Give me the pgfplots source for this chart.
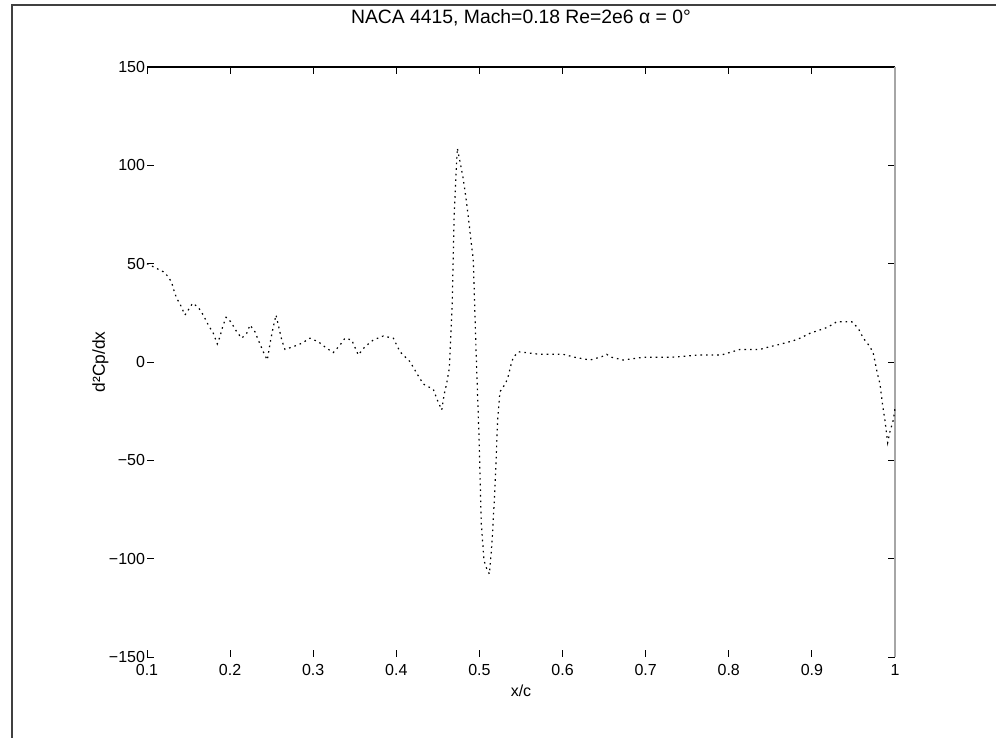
\documentclass[border=0pt]{standalone}
\usepackage{pgfplots}
\pgfplotsset{compat=1.18}
\usepackage{fontspec}
\setmainfont{Liberation Sans}

\begin{document}
\begin{tikzpicture}[x=0.75pt,y=0.75pt]
\useasboundingbox (0,0) rectangle (996,738);
% figure frame
\draw[black!75, line width=0.8pt] (12,0) -- (12,733) -- (996,733);
\begin{axis}[
  at={(110.25pt,60.75pt)}, anchor=south west,
  width=561pt, height=442.5pt, scale only axis,
  xmin=0.1, xmax=1, ymin=-150, ymax=150,
  xtick={0.1,0.2,0.3,0.4,0.5,0.6,0.7,0.8,0.9,1},
  xticklabels={0.1,0.2,0.3,0.4,0.5,0.6,0.7,0.8,0.9,1},
  ytick={-150,-100,-50,0,50,100,150},
  yticklabels={−150,−100,−50,0,50,100,150},
  tick align=inside, major tick length=5pt,
  tick style={black, line width=0.6pt},
  axis line style={draw=none},
  ticklabel style={font=\fontsize{12}{14}\selectfont},
  xticklabel style={yshift=-2pt},
  yticklabel style={xshift=2pt},
  clip=false,
  title={NACA 4415, Mach=0.18 Re=2e6 α = 0°},
  title style={font=\fontsize{14.5}{17}\selectfont, at={([yshift=31pt]axis description cs:0.5,1)}, anchor=center},
  xlabel={x/c},
  xlabel style={font=\fontsize{12}{14}\selectfont, at={([yshift=-25pt]axis description cs:0.5,0)}, anchor=center},
  ylabel={d²Cp/dx},
  ylabel style={font=\fontsize{13}{15}\selectfont, at={([xshift=-35pt]axis description cs:0,0.5)}, anchor=center},
]
\draw[black, line width=1.5pt] (rel axis cs:0,1) -- (rel axis cs:1,1);
\draw[gray!70, line width=1.5pt] (rel axis cs:1,0) -- (rel axis cs:1,1);
\addplot[black, line width=0.9pt, dash pattern=on 1.2pt off 3pt, mark=none] coordinates {
(0.1000,50.0) (0.1196,45.9) (0.1256,43.4) (0.1297,40.4) (0.1328,35.8)
(0.1357,32.4) (0.1397,29.5) (0.1457,23.9) (0.1550,29.9) (0.1617,27.8)
(0.1677,23.9) (0.1738,18.8) (0.1798,14.6) (0.1846,9.2) (0.1878,12.9)
(0.1911,18.0) (0.1951,22.7) (0.2007,20.5) (0.2079,15.4) (0.2139,12.1)
(0.2200,14.6) (0.2239,18.8) (0.2299,15.4) (0.2339,11.2) (0.2399,5.2)
(0.2447,1.0) (0.2488,11.2) (0.2520,18.0) (0.2552,23.9) (0.2580,18.8)
(0.2621,11.2) (0.2660,6.4) (0.2760,7.8) (0.2861,9.5) (0.2961,12.1)
(0.3061,10.3) (0.3162,7.0) (0.3242,4.8) (0.3322,8.6) (0.3382,12.1)
(0.3463,11.2) (0.3542,3.6) (0.3623,7.8) (0.3723,11.2) (0.3843,13.2)
(0.3964,12.1) (0.4044,5.2) (0.4164,0.2) (0.4245,-5.7) (0.4324,-11.2)
(0.4445,-13.9) (0.4493,-19.3) (0.4546,-24.4) (0.4574,-16.8) (0.4606,-10.8)
(0.4637,-3.2) (0.4673,30.7) (0.4697,76.5) (0.4734,108.7) (0.4766,101.9)
(0.4799,94.6) (0.4835,84.4) (0.4866,73.9) (0.4895,62.9) (0.4926,51.9)
(0.4959,6.1) (0.4995,-38.0) (0.5022,-82.0) (0.5055,-101.0) (0.5087,-105.0)
(0.5119,-107.8) (0.5151,-92.0) (0.5187,-64.0) (0.5220,-28.6) (0.5247,-15.1)
(0.5316,-10.8) (0.5347,-7.1) (0.5376,-2.0) (0.5407,2.4) (0.5472,5.2)
(0.5729,3.9) (0.6009,3.9) (0.6150,2.4) (0.6330,1.0) (0.6471,2.7)
(0.6531,3.9) (0.6591,2.4) (0.6731,1.0) (0.6972,2.4) (0.7173,2.4)
(0.7313,2.4) (0.7654,3.6) (0.7915,3.6) (0.8135,6.4) (0.8376,6.4)
(0.8496,7.8) (0.8616,9.0) (0.8776,10.8) (0.8857,12.1) (0.8977,14.6)
(0.9098,16.3) (0.9178,17.5) (0.9258,19.3) (0.9299,20.5) (0.9479,20.5)
(0.9558,17.1) (0.9619,12.1) (0.9699,7.8) (0.9739,4.4) (0.9759,0.2)
(0.9787,-5.7) (0.9820,-11.2) (0.9847,-20.7) (0.9880,-29.9) (0.9912,-41.0)
(0.9940,-35.4) (0.9980,-29.5) (1.0000,-23.6)
};
\end{axis}
\end{tikzpicture}
\end{document}
